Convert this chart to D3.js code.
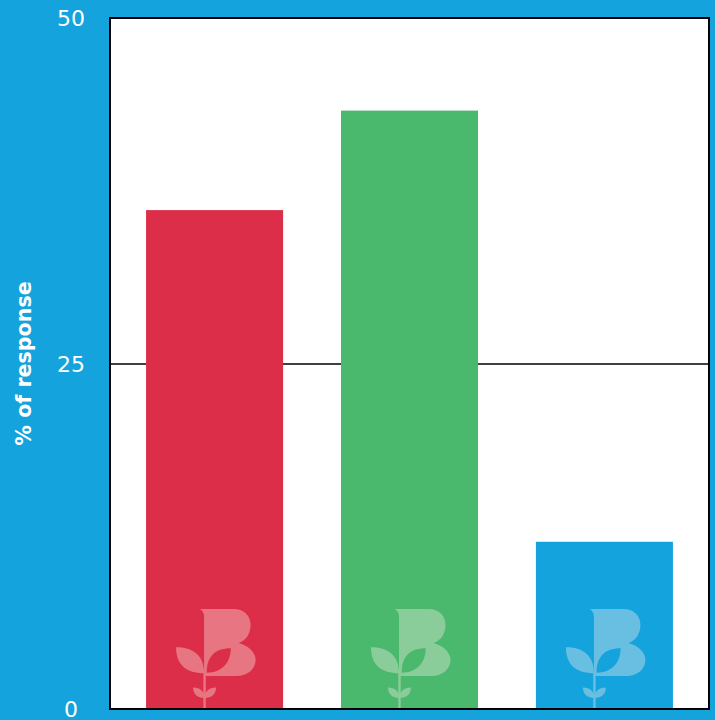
<!DOCTYPE html>
<html>
<head>
<meta charset="utf-8">
<script src="https://cdn.jsdelivr.net/npm/d3@7"></script>
<style>
  html, body { margin: 0; padding: 0; background: #14a3dc; }
  svg { display: block; }
</style>
</head>
<body>
<div id="chart"></div>
<script>
// Survey answers (share of responses, %)
const categories = ["Option 1", "Option 2", "Option 3"];
const values = [36.1, 43.3, 12.1];
const barColors = ["#dc2e48", "#4ab86d", "#14a3dc"];
const yTicks = [0, 25, 50];
const yTitle = "% of response";

const W = 715, H = 720;
const margin = { top: 18, right: 6, bottom: 11, left: 110 };
const innerW = W - margin.left - margin.right;
const innerH = H - margin.top - margin.bottom;

const svg = d3.select("#chart").append("svg")
  .attr("width", W).attr("height", H);

svg.append("rect").attr("width", W).attr("height", H).attr("fill", "#14a3dc");

const g = svg.append("g").attr("transform", `translate(${margin.left},${margin.top})`);

const x = d3.scaleBand().domain(categories).range([0, innerW])
  .paddingInner(0.297).paddingOuter(0.185);
const y = d3.scaleLinear().domain([0, 50]).range([innerH, 0]);

// plot area
g.append("rect").attr("width", innerW).attr("height", innerH).attr("fill", "#fff");

// gridline at the middle tick
g.append("g").call(d3.axisLeft(y).tickValues([25]).tickSize(-innerW).tickFormat(""))
  .call(s => s.select(".domain").remove())
  .selectAll("line").attr("stroke", "#000").attr("stroke-width", 1.3);

// bars
const bars = g.selectAll(".bar").data(values).enter().append("g").attr("class", "bar");
bars.append("rect")
  .attr("x", (d, i) => x(categories[i]))
  .attr("y", d => y(d))
  .attr("width", x.bandwidth())
  .attr("height", d => innerH - y(d))
  .attr("fill", (d, i) => barColors[i]);

// brand mark at the foot of each bar (B with a sprouting stem)
const bMark = "M-14.5 -100 L19 -100 C30 -100 36 -93 36 -84 C36 -75 31 -68 24 -66 C34 -63 41 -57 41 -49 C41 -40 33 -33 22 -33 L-10.5 -33 L-10.5 -92 C-10.5 -96 -12 -98 -14.5 -100 Z " +
  "M-7.8 -36.3 C-7.8 -52 0 -60.7 16.2 -60.7 C16.2 -46 7 -36.3 -7.8 -36.3 Z";
const leftLeaf = "M-38.5 -61.7 C-22 -61.7 -10.5 -54 -10.5 -35.7 C-28 -35.7 -38.5 -44 -38.5 -61.7 Z";
const sprout = "M-21.5 -21.5 C-14 -21.5 -10 -17 -10 -11 C-17 -11 -21.5 -15 -21.5 -21.5 Z " +
  "M1.5 -21.5 C-6 -21.5 -10 -17 -10 -11 C-3 -11 1.5 -15 1.5 -21.5 Z";
const s = x.bandwidth() / 137;
const logo = bars.append("g")
  .attr("transform", (d, i) => `translate(${x(categories[i]) + x.bandwidth() / 2},${innerH}) scale(${s})`)
  .attr("opacity", 0.36);
const markFill = "#fff2ea";
logo.append("path").attr("d", bMark).attr("fill", markFill).attr("fill-rule", "evenodd");
logo.append("path").attr("d", leftLeaf).attr("fill", markFill);
logo.append("path").attr("d", sprout).attr("fill", markFill);
logo.append("rect").attr("x", -11.2).attr("y", -37).attr("width", 2.4).attr("height", 37).attr("fill", markFill);

// frame
g.append("rect").attr("width", innerW).attr("height", innerH)
  .attr("fill", "none").attr("stroke", "#000").attr("stroke-width", 2);

// y axis labels
const yAxis = g.append("g").call(d3.axisLeft(y).tickValues(yTicks).tickSize(0).tickPadding(0));
yAxis.select(".domain").remove();
yAxis.selectAll("text")
  .attr("x", -39).attr("text-anchor", "middle").attr("dy", "0.36em")
  .attr("fill", "#fff")
  .style("font-family", "'DejaVu Sans', sans-serif")
  .style("font-size", "22px");

// axis title
svg.append("text")
  .attr("transform", `translate(31,${margin.top + y(25)}) rotate(-90)`)
  .attr("text-anchor", "middle")
  .attr("fill", "#fff")
  .style("font-family", "'DejaVu Sans', sans-serif")
  .style("font-weight", "bold")
  .style("font-size", "20.6px")
  .text(yTitle);
</script>
</body>
</html>
